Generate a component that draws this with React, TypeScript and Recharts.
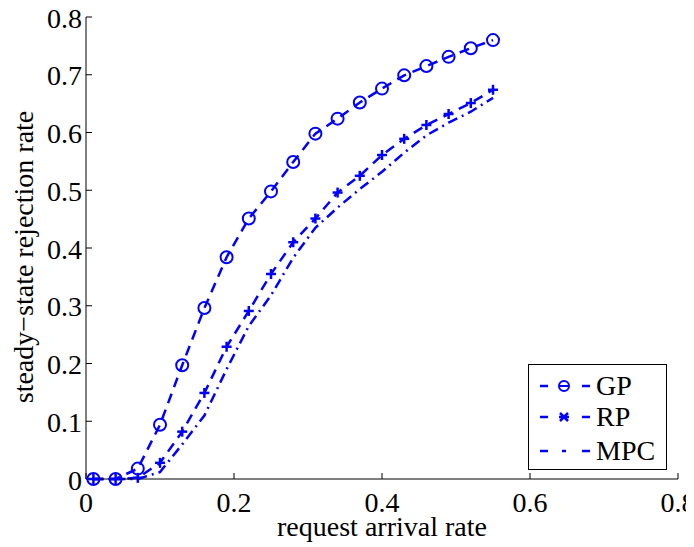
import { LineChart, Line, XAxis, YAxis, Legend } from 'recharts';

const arrivalRates = [0.01, 0.04, 0.07, 0.1, 0.13, 0.16, 0.19, 0.22, 0.25, 0.28, 0.31, 0.34, 0.37, 0.4, 0.43, 0.46, 0.49, 0.52, 0.55];
const gpRejection = [0, 0, 0.018, 0.094, 0.197, 0.296, 0.384, 0.451, 0.498, 0.549, 0.598, 0.624, 0.652, 0.676, 0.699, 0.715, 0.731, 0.746, 0.76];
const rpRejection = [0, 0, 0.002, 0.028, 0.082, 0.149, 0.229, 0.291, 0.355, 0.41, 0.451, 0.496, 0.525, 0.561, 0.589, 0.613, 0.632, 0.651, 0.674];
const mpcRejection = [0, 0, 0, 0.012, 0.06, 0.11, 0.19, 0.265, 0.318, 0.383, 0.435, 0.47, 0.502, 0.532, 0.565, 0.595, 0.617, 0.636, 0.66];

const xTicks = [0, 0.2, 0.4, 0.6, 0.8];
const yTicks = [0, 0.1, 0.2, 0.3, 0.4, 0.5, 0.6, 0.7, 0.8];

const data = arrivalRates.map((x, i) => ({
  x,
  gp: gpRejection[i],
  rp: rpRejection[i],
  mpc: mpcRejection[i],
}));

const BLUE = '#0000ff';
const FONT = 'Liberation Serif';
const FS = 28;
const GP_DASH = '10 7';
const RP_DASH = '10 7';
const MPC_DASH = '10 5 2 5';

const fmt = (v: number) => (v === 0 ? '0' : String(v));
const blank = () => '';

const circleDot = (props: any) => {
  const { cx, cy, index } = props;
  return <circle key={'gp' + index} cx={cx} cy={cy} r={6} fill="none" stroke={BLUE} strokeWidth={2} />;
};

const plusDot = (props: any) => {
  const { cx, cy, index } = props;
  return (
    <g key={'rp' + index}>
      <line x1={cx - 5} y1={cy} x2={cx + 5} y2={cy} stroke={BLUE} strokeWidth={2.5} />
      <line x1={cx} y1={cy - 5} x2={cx} y2={cy + 5} stroke={BLUE} strokeWidth={2.5} />
    </g>
  );
};

// tick labels drawn by hand so the serif font sticks
const xTick = (props: any) => {
  const { x, payload } = props;
  return (
    <text x={x} y={504} textAnchor="middle" fontFamily={FONT} fontSize={FS} fill="#000">
      {fmt(payload.value)}
    </text>
  );
};

const yTick = (props: any) => {
  const { y, payload } = props;
  return (
    <text x={74} y={y + 10.5} textAnchor="end" fontFamily={FONT} fontSize={FS} fill="#000">
      {fmt(payload.value)}
    </text>
  );
};

const xLabel = (props: any) => {
  const vb = props.viewBox;
  return (
    <text x={vb.x + vb.width / 2} y={528} textAnchor="middle" fontFamily={FONT} fontSize={FS} fill="#000">
      request arrival rate
    </text>
  );
};

const yLabel = () => {
  const cx = 25;
  const cy = 249;
  return (
    <text x={cx} y={cy} transform={`rotate(-90 ${cx} ${cy})`} textAnchor="middle" fontFamily={FONT} fontSize={FS} fill="#000">
      steady{'\u2212'}state rejection rate
    </text>
  );
};

const renderLegend = () => {
  const rows = [
    { name: 'GP', y: 22 },
    { name: 'RP', y: 53 },
    { name: 'MPC', y: 87 },
  ];
  return (
    <svg width={140} height={107} style={{ display: 'block' }}>
      <rect x={0.5} y={0.5} width={138} height={105} fill="#fff" stroke="#000" strokeWidth={1} />
      {rows.map(r => (
        <g key={r.name}>
          <line x1={12} y1={r.y} x2={20} y2={r.y} stroke={BLUE} strokeWidth={2.5} />
          <line x1={54} y1={r.y} x2={62} y2={r.y} stroke={BLUE} strokeWidth={2.5} />
          {r.name === 'GP' && (
            <g>
              <circle cx={36} cy={r.y} r={5} fill="none" stroke={BLUE} strokeWidth={2} />
              <line x1={32} y1={r.y} x2={40} y2={r.y} stroke={BLUE} strokeWidth={2} />
            </g>
          )}
          {r.name === 'RP' && (
            <g>
              <line x1={32} y1={r.y - 4} x2={40} y2={r.y + 4} stroke={BLUE} strokeWidth={2.5} />
              <line x1={32} y1={r.y + 4} x2={40} y2={r.y - 4} stroke={BLUE} strokeWidth={2.5} />
              <line x1={31} y1={r.y} x2={41} y2={r.y} stroke={BLUE} strokeWidth={2.5} />
            </g>
          )}
          {r.name === 'MPC' && <line x1={34} y1={r.y} x2={38} y2={r.y} stroke={BLUE} strokeWidth={2.5} />}
          <text x={68} y={r.y + 9} fontFamily={FONT} fontSize={FS} fill="#000">
            {r.name}
          </text>
        </g>
      ))}
    </svg>
  );
};

export default function App() {
  return (
    <div style={{ width: 686, height: 539, position: 'relative', fontFamily: FONT }}>
      <LineChart
        width={686}
        height={539}
        data={data}
        margin={{ top: 9, right: 16, bottom: 0, left: 8 }}
        style={{ overflow: 'visible' }}
      >
        <XAxis
          dataKey="x"
          type="number"
          domain={[0, 0.8]}
          ticks={xTicks}
          height={68}
          stroke="#000"
          tickSize={-6}
          tick={xTick}
          interval={0}
          label={xLabel}
        />
        <XAxis
          xAxisId="top"
          orientation="top"
          dataKey="x"
          type="number"
          domain={[0, 0.8]}
          ticks={xTicks}
          tickFormatter={blank}
          height={0}
          stroke="#000"
          tickSize={-6}
          interval={0}
        />
        <YAxis
          type="number"
          domain={[0, 0.8]}
          ticks={yTicks}
          width={70}
          stroke="#000"
          tickSize={-6}
          tick={yTick}
          interval={0}
          label={yLabel}
        />
        <YAxis
          yAxisId="right"
          orientation="right"
          type="number"
          domain={[0, 0.8]}
          ticks={yTicks}
          tickFormatter={blank}
          width={0}
          stroke="#000"
          tickSize={-6}
          interval={0}
        />
        <Legend
          layout="vertical"
          align="center"
          verticalAlign="middle"
          content={renderLegend}
          wrapperStyle={{ left: 520, top: 356, width: 140, height: 107 }}
        />
        <Line
          dataKey="mpc"
          stroke={BLUE}
          strokeWidth={2.5}
          strokeDasharray={MPC_DASH}
          dot={false}
          type="linear"
          isAnimationActive={false}
        />
        <Line
          dataKey="rp"
          stroke={BLUE}
          strokeWidth={2.5}
          strokeDasharray={RP_DASH}
          dot={plusDot}
          type="linear"
          isAnimationActive={false}
        />
        <Line
          dataKey="gp"
          stroke={BLUE}
          strokeWidth={2.5}
          strokeDasharray={GP_DASH}
          dot={circleDot}
          type="linear"
          isAnimationActive={false}
        />
      </LineChart>
    </div>
  );
}
